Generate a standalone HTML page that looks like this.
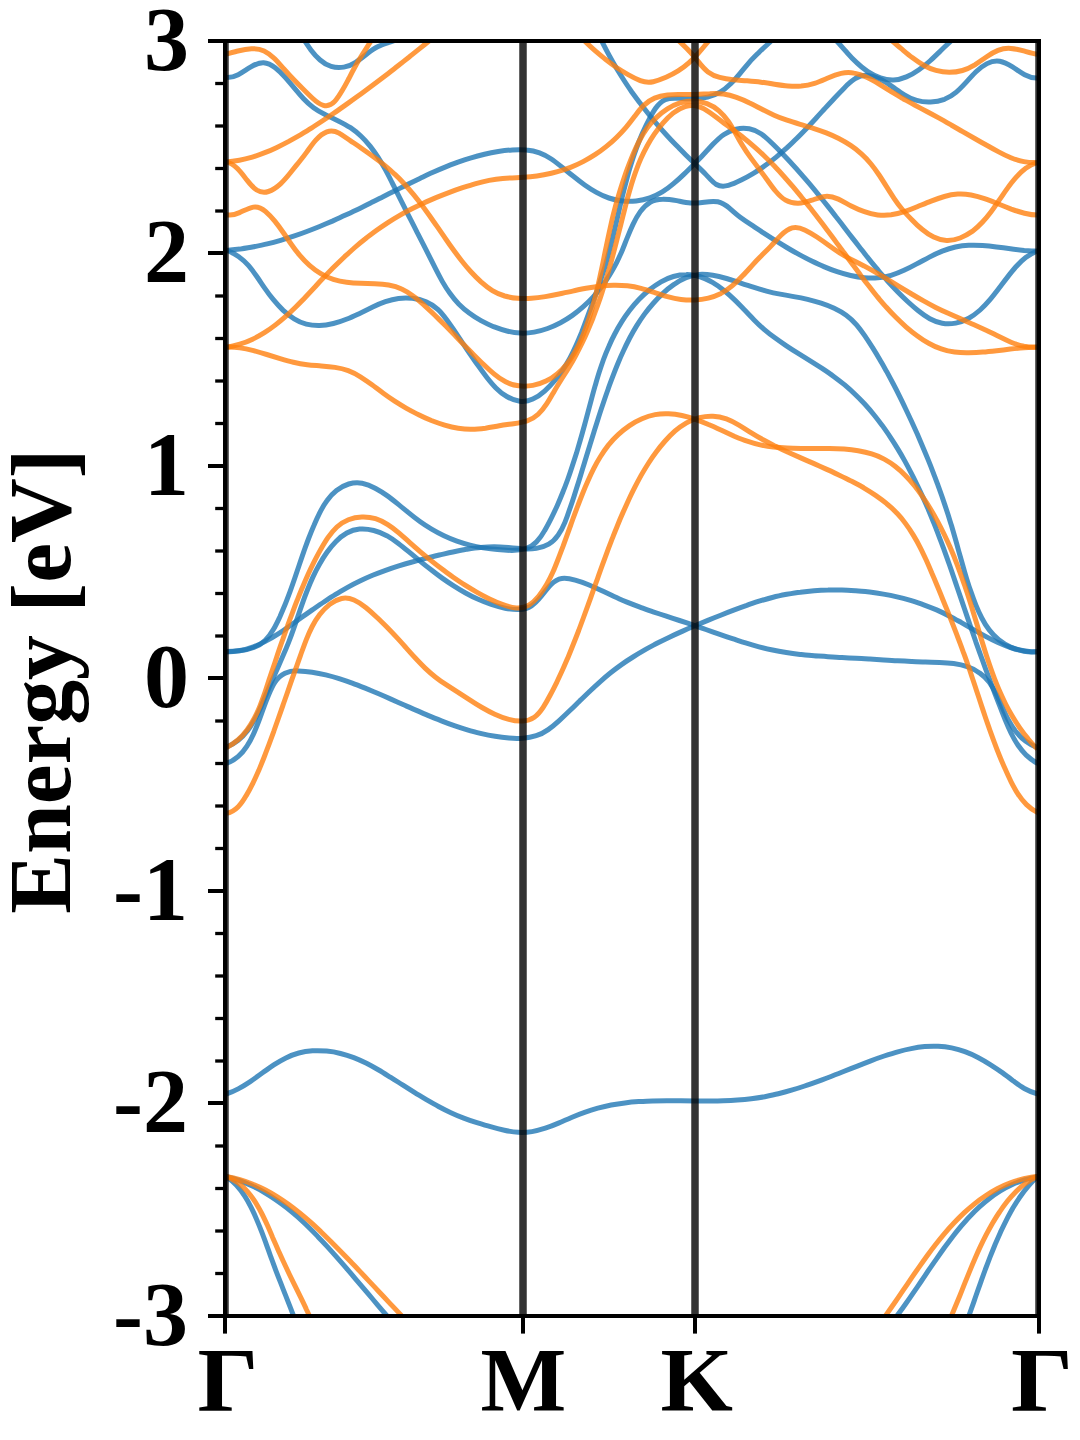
<!DOCTYPE html>
<html>
<head>
<meta charset="utf-8">
<title>Band structure</title>
<style>
html,body{margin:0;padding:0;background:#fff;}
body{width:1080px;height:1440px;overflow:hidden;font-family:"Liberation Serif",serif;}
svg{display:block;}
text{font-family:"Liberation Serif",serif;font-weight:bold;font-size:90px;fill:#000;}
.bands path{fill:none;stroke-width:5.0;stroke-opacity:0.8;stroke-linecap:butt;stroke-linejoin:round;}
.vl line{stroke:#000;stroke-opacity:0.8;stroke-width:7.5;}
.sp line{stroke:#000;stroke-width:4.0;stroke-linecap:square;}
.tk line{stroke:#000;stroke-width:4.0;}
.tk line.mn{stroke-width:3.3;}
</style>
</head>
<body>
<svg width="1080" height="1440" viewBox="0 0 1080 1440">
<defs><clipPath id="ax"><rect x="225.0" y="41.0" width="814.0" height="1275.0"/></clipPath></defs>
<rect x="0" y="0" width="1080" height="1440" fill="#fff"/>
<g class="bands" clip-path="url(#ax)">
<path d="M296 28.1C298.3 31 300.7 34.6 303.1 38.4C305.6 42.2 308.1 46.1 310.9 49.9C313.7 53.6 316.7 57.1 320.1 60C323.4 62.9 327.1 65.2 331.1 66.4C335.2 67.6 339.5 67.8 343.8 67.1C348 66.4 352 64.7 355.7 62.3C359.4 60 363 57.1 366.5 54.3C370.1 51.5 373.7 48.8 377.6 46.8C381.5 44.8 385.7 43.6 389.9 42.2C394 40.9 398.2 39.4 402 37" stroke="#1f77b4"/>
<path d="M225.1 77.4C229.8 78.1 234 76.8 238.2 74.7C242.3 72.6 246.5 69.5 250.9 66.9C255.2 64.3 259.5 62.5 263.6 62.7C267.7 63 271.5 64.9 275.2 67.7C278.8 70.5 282.2 74 285.4 77.6C288.6 81.2 291.6 84.8 294.6 88.4C297.5 91.9 300.5 95.4 303.6 98.7C306.7 102 310 105 313.6 107.7C317.3 110.4 321.3 112.7 325.5 114.8C329.7 116.9 334 118.9 338.3 120.9C342.5 123 346.7 125.2 350.5 127.7C354.3 130.3 357.8 133.2 361.1 136.3C364.4 139.4 367.4 142.8 370.3 146.4C373.1 150 375.8 153.8 378.3 157.7C380.8 161.7 383.2 165.7 385.5 169.9C387.7 174 389.9 178.2 392 182.5C394.2 186.7 396.2 190.9 398.3 195.1C400.4 199.3 402.5 203.5 404.6 207.6C406.6 211.8 408.7 215.9 410.8 219.9C412.9 224 415 228.1 417 232.2C419.1 236.2 421.2 240.3 423.3 244.4C425.4 248.5 427.5 252.6 429.5 256.7C431.6 260.8 433.7 265 435.8 269.2C437.9 273.4 440.1 277.5 442.4 281.6C444.7 285.6 447.2 289.6 449.9 293.3C452.6 297.1 455.5 300.7 458.7 303.9C462 307.2 465.5 310.2 469.2 313C472.9 315.8 476.9 318.3 481 320.6C485.1 322.8 489.3 324.9 493.6 326.7C498 328.4 502.4 329.9 506.9 331C511.4 332.2 515.9 332.9 520.5 333.1C525.1 333.3 529.6 332.9 534.2 332.1C538.7 331.3 543.2 330.1 547.6 328.5C552 326.9 556.3 324.9 560.5 322.7C564.6 320.5 568.6 318.1 572.4 315.4C576.2 312.7 579.8 309.8 583.3 306.7C586.8 303.6 590 300.4 593.2 296.9C596.3 293.5 599.2 289.9 602 286.2C604.8 282.5 607.4 278.7 609.8 274.7C612.2 270.8 614.5 266.7 616.6 262.6C618.6 258.5 620.5 254.4 622.3 250.2C624 246 625.6 241.7 627.4 237.4C629.1 233.1 630.9 228.7 633 224.3C635.1 219.9 637.5 215.5 640.3 211.6C643.1 207.8 646.3 204.5 650.1 202.3C653.8 200.1 658.1 199.2 662.7 199.2C667.2 199.1 672 199.8 676.7 200.6C681.4 201.5 685.9 202.5 690.5 203C695 203.4 699.7 202.8 704.3 202.2C709 201.5 713.6 200.9 717.8 201.8C722.1 202.7 725.8 205.1 729.4 208.2C732.9 211.3 736.5 214.5 740.2 217.3C744 220.1 747.9 222.7 751.8 225.2C755.6 227.7 759.5 230.3 763.4 232.8C767.3 235.3 771.2 237.8 775.1 240.3C779 242.7 782.9 245.1 786.8 247.5C790.8 249.9 794.8 252.2 798.9 254.4C802.9 256.6 807 258.8 811.2 260.8C815.4 262.8 819.6 264.8 823.9 266.6C828.3 268.5 832.7 270.2 837.1 271.7C841.6 273.2 846.1 274.5 850.6 275.5C855.2 276.5 859.7 277.3 864.2 277.7C868.8 278.1 873.3 278.2 877.7 277.8C882.2 277.4 886.6 276.6 891 275.3C895.4 274 899.7 272.3 904 270.3C908.2 268.4 912.5 266.2 916.7 263.9C920.9 261.7 925.2 259.3 929.4 257.1C933.7 254.9 937.9 252.9 942.2 251.1C946.6 249.4 950.9 248 955.4 247C959.8 246.1 964.3 245.5 968.8 245.3C973.3 245.1 977.9 245.2 982.5 245.5C987.1 245.8 991.8 246.3 996.4 246.9C1001.1 247.5 1005.7 248.1 1010.4 248.7C1015 249.4 1019.6 249.9 1024.2 250.4C1028.9 250.8 1033.4 251.1 1038 251.1" stroke="#1f77b4"/>
<path d="M225.9 250.5C230.6 250.2 235.3 249.7 239.9 249.1C244.5 248.4 249.1 247.7 253.7 246.8C258.2 245.9 262.7 245 267.2 243.9C271.7 242.8 276.1 241.6 280.6 240.3C285 239 289.4 237.6 293.7 236.2C298.1 234.7 302.4 233.2 306.8 231.5C311.1 229.9 315.4 228.2 319.6 226.5C323.9 224.7 328.1 222.9 332.4 221.1C336.6 219.2 340.8 217.3 345 215.3C349.2 213.4 353.4 211.4 357.6 209.4C361.8 207.3 366 205.3 370.1 203.2C374.3 201.2 378.4 199.1 382.6 197C386.7 194.9 390.9 192.8 395 190.7C399.2 188.6 403.3 186.6 407.4 184.5C411.6 182.4 415.7 180.4 419.9 178.4C424.1 176.4 428.2 174.4 432.4 172.5C436.7 170.6 440.9 168.8 445.1 167.1C449.4 165.3 453.7 163.7 458 162.1C462.3 160.6 466.7 159.1 471.1 157.8C475.5 156.5 480 155.3 484.5 154.2C489 153.2 493.6 152.3 498.2 151.5C502.9 150.8 507.6 150.2 512.3 149.9C517.1 149.6 521.8 149.5 526.3 150C530.9 150.4 535.4 151.3 539.5 152.8C543.7 154.3 547.6 156.5 551.3 159C555.1 161.6 558.7 164.5 562.4 167.4C566 170.3 569.7 173.4 573.4 176.3C577.1 179.3 580.8 182.2 584.7 185C588.5 187.7 592.4 190.2 596.4 192.4C600.5 194.7 604.6 196.6 608.9 198C613.2 199.5 617.7 200.5 622.3 200.9C626.8 201.4 631.5 201.4 636.1 200.9C640.8 200.3 645.4 199.3 649.8 197.8C654.2 196.3 658.4 194.3 662.3 191.9C666.3 189.5 670 186.7 673.5 183.7C677.1 180.7 680.5 177.6 683.8 174.4C687.2 171.1 690.4 167.9 693.6 164.7C696.8 161.4 700 158.1 703.2 154.7C706.4 151.3 709.6 147.8 712.9 144.3C716.3 140.8 719.7 137.4 723.6 134.7C727.4 132.1 731.6 130.2 736 129.2C740.4 128.1 744.9 128 749.3 128.8C753.6 129.6 757.7 131.4 761.4 134C765.1 136.6 768.6 140 772 143.3C775.4 146.6 778.7 149.9 782 153.3C785.2 156.6 788.4 160.1 791.6 163.5C794.8 166.9 797.9 170.4 800.9 173.9C804 177.4 807 180.9 810 184.4C813 188 815.9 191.5 818.8 195.1C821.7 198.7 824.6 202.3 827.5 205.9C830.4 209.5 833.2 213.1 836 216.8C838.9 220.4 841.7 224 844.5 227.7C847.3 231.3 850.1 235 852.9 238.6C855.8 242.2 858.6 245.9 861.4 249.5C864.3 253.1 867.1 256.8 870 260.3C872.9 263.9 875.9 267.5 878.8 271C881.8 274.5 884.9 278 888 281.5C891.1 284.9 894.3 288.3 897.6 291.7C900.8 295 904.2 298.3 907.6 301.5C911.1 304.7 914.7 307.9 918.3 310.8C922 313.8 925.8 316.5 929.8 318.7C933.8 320.8 937.9 322.5 942.2 323.3C946.6 324.1 951.2 324 955.7 323.1C960.3 322.1 964.7 320.4 968.8 318.2C972.9 315.9 976.6 313.1 980.1 310C983.6 306.8 986.9 303.4 990 299.7C993.1 296.1 996 292.3 998.8 288.6C1001.6 284.9 1004.3 281.2 1007.1 277.6C1009.9 274 1012.7 270.4 1015.7 267C1018.8 263.6 1022 260.3 1025.7 257.5C1029.3 254.8 1033.3 252.5 1038 250.9" stroke="#1f77b4"/>
<path d="M597.4 31.7C599.3 35.9 601.3 40.2 603.4 44.4C605.5 48.5 607.6 52.7 609.9 56.7C612.1 60.8 614.4 64.8 616.8 68.8C619.1 72.7 621.6 76.6 624.1 80.5C626.6 84.4 629.2 88.2 631.8 92C634.5 95.7 637.2 99.4 640 103.1C642.7 106.8 645.6 110.4 648.5 114C651.4 117.6 654.3 121.1 657.3 124.6C660.3 128.1 663.4 131.6 666.5 135C669.6 138.4 672.8 141.8 676 145.1C679.2 148.4 682.5 151.7 685.8 155C689.1 158.2 692.4 161.4 695.8 164.6C699.2 167.8 702.6 171 706 174.6C709.4 178.2 712.7 182.3 716.4 184.5C720.1 186.6 724.2 186.5 728.4 185.4C732.7 184.2 737 182.2 741.2 180.1C745.4 178.1 749.4 175.8 753.4 173.4C757.4 171 761.3 168.4 765.1 165.6C768.9 162.9 772.6 160 776.2 157.1C779.8 154.1 783.3 151 786.8 147.9C790.2 144.7 793.6 141.5 796.9 138.2C800.1 135 803.3 131.7 806.5 128.4C809.6 125.1 812.7 121.8 815.8 118.5C818.8 115.1 821.9 111.8 825 108.4C828.1 105 831.2 101.6 834.4 98.2C837.6 94.8 840.9 91.3 844.3 87.9C847.7 84.4 851.2 81 855.1 78.7C858.9 76.3 863 75.1 867.4 75.4C871.9 75.7 876.5 77.4 880.9 79.6C885.2 81.8 889.2 84.4 893 87.1C896.9 89.8 900.6 92.5 904.4 94.8C908.2 97.2 912.3 99.2 916.7 100.4C921.1 101.7 925.9 102.2 930.6 102C935.4 101.8 940.1 100.9 944.5 99.3C948.8 97.6 952.7 95.1 956.3 92.1C959.8 89.1 963.1 85.6 966.3 82.1C969.5 78.5 972.7 74.9 976 71.7C979.4 68.5 983 65.7 987 63.6C991 61.6 995.3 60.6 999.7 61.3C1004 62.1 1008.4 64.4 1012.5 66.9C1016.7 69.5 1020.6 72.5 1024.7 74.7C1028.8 76.9 1033.1 78.3 1038 77.9" stroke="#1f77b4"/>
<path d="M226 250.2C230.9 251.9 235.1 254.1 238.8 256.7C242.5 259.3 245.7 262.4 248.6 265.7C251.5 269.1 254.2 272.7 256.8 276.5C259.4 280.2 262 284.2 264.7 288.1C267.4 292 270.3 296 273.4 299.7C276.5 303.5 279.8 307.1 283.2 310.4C286.7 313.6 290.3 316.5 294.2 318.9C298 321.3 302.1 323.1 306.3 324.2C310.6 325.3 315 325.7 319.6 325.6C324.1 325.4 328.7 324.6 333.4 323.5C338 322.4 342.6 320.8 347 319C351.5 317.3 355.8 315.2 360.1 313.2C364.4 311.1 368.6 309 372.7 307C376.9 305 381.1 303.2 385.4 301.7C389.7 300.2 394 299 398.5 298.4C403 297.8 407.6 297.7 412.3 298.3C417 298.8 421.7 300 426.1 301.9C430.4 303.7 434.4 306.2 437.8 309.4C441.2 312.5 444.1 316.3 446.9 320.1C449.6 323.9 452.3 327.7 454.9 331.5C457.5 335.4 460.1 339.2 462.6 343C465.2 346.8 467.8 350.7 470.4 354.5C473 358.3 475.6 362.1 478.3 365.8C481 369.6 483.8 373.4 486.7 377.2C489.6 380.9 492.6 384.6 495.9 387.9C499.2 391.2 502.8 394.2 506.8 396.5C510.8 398.9 515.3 400.7 519.8 401.2C524.3 401.8 528.7 401 532.8 399.1C537 397.2 540.9 394.4 544.6 391.1C548.2 387.9 551.6 384.3 554.6 380.7C557.6 377.2 560.4 373.5 562.9 369.8C565.5 366 567.8 362.1 570 358C572.1 354 574.1 349.8 576 345.6C577.9 341.3 579.7 337 581.5 332.7C583.2 328.3 584.8 323.9 586.4 319.6C588.1 315.2 589.7 310.8 591.3 306.4C592.9 302 594.5 297.7 596.1 293.3C597.6 289 599.2 284.6 600.6 280.3C602.1 275.9 603.5 271.5 604.9 267.1C606.2 262.7 607.4 258.2 608.6 253.7C609.8 249.2 611 244.7 612.1 240.2C613.2 235.7 614.2 231.2 615.3 226.6C616.4 222.1 617.4 217.6 618.5 213C619.5 208.5 620.6 203.9 621.6 199.4C622.7 194.9 623.8 190.4 625 185.8C626.2 181.3 627.4 176.8 628.6 172.4C629.9 167.9 631.3 163.5 632.7 159.1C634.1 154.6 635.7 150.3 637.3 145.9C638.9 141.6 640.7 137.3 642.5 133C644.4 128.8 646.4 124.6 648.6 120.4C650.7 116.3 653 112 655.6 108.3C658.2 104.6 661.3 101.5 665.1 99.7C669 98 673.9 98 678.9 98.3C684 98.7 689 99 693.9 98.8C698.7 98.6 703.3 98.1 707.7 97.1C712.1 96 716.2 94.5 720.1 92.2C723.9 90 727.4 87 730.7 83.8C734.1 80.5 737.2 76.9 740.3 73.1C743.4 69.4 746.4 65.7 749.5 62.1C752.6 58.6 755.9 55.4 759.1 52.2C762.4 49.1 765.7 46.1 769.1 43C772.4 39.8 775.7 36.6 779 33" stroke="#1f77b4"/>
<path d="M828 32.2C831.2 35.1 834.3 38.4 837.4 41.8C840.5 45.2 843.6 48.8 846.8 52.3C849.9 55.9 853.2 59.4 856.7 62.6C860.1 65.9 863.8 68.9 867.8 71.6C871.8 74.2 876 76.4 880.4 77.9C884.8 79.4 889.2 80.2 893.6 80C897.9 79.8 902.2 78.7 906.4 76.9C910.6 75.2 914.7 72.8 918.6 70C922.5 67.3 926.3 64.2 929.9 61C933.5 57.7 936.9 54.4 940.2 51.2C943.6 47.9 946.9 44.7 950.3 41.7C953.7 38.6 957.2 35.7 961 33.1" stroke="#1f77b4"/>
<path d="M226.2 763.4C230.7 761.9 234.6 759.5 238 756.6C241.4 753.7 244.3 750.2 246.8 746.3C249.4 742.5 251.6 738.3 253.5 734C255.5 729.6 257.2 725.2 258.9 720.8C260.5 716.5 262 712.1 263.6 707.8C265.2 703.5 266.9 699.2 268.7 694.9C270.5 690.6 272.4 686.1 275 682.2C277.6 678.3 281 675.2 285 673.3C289 671.4 293.6 670.7 298.2 670.9C302.9 671.1 307.5 671.5 312.1 672.2C316.7 672.9 321.2 673.8 325.7 674.9C330.2 676 334.7 677.2 339.1 678.6C343.5 680 347.9 681.5 352.2 683.1C356.6 684.7 360.9 686.4 365.2 688.1C369.6 689.9 373.8 691.7 378.1 693.5C382.4 695.4 386.6 697.2 390.9 699.1C395.1 701 399.4 702.9 403.6 704.8C407.9 706.7 412.1 708.6 416.4 710.4C420.6 712.3 424.9 714.1 429.1 715.9C433.4 717.7 437.7 719.4 442 721.1C446.3 722.8 450.6 724.4 455 725.9C459.3 727.4 463.7 728.8 468.1 730.1C472.5 731.4 477 732.5 481.5 733.6C486 734.7 490.5 735.6 495.1 736.3C499.7 737.1 504.4 737.7 509 738.1C513.7 738.5 518.4 738.6 522.9 738.2C527.5 737.9 531.9 737.1 536.2 735.7C540.4 734.4 544.4 732.3 548.2 729.6C552 727 555.7 723.8 559.2 720.6C562.7 717.4 566.2 714.1 569.6 710.8C573 707.5 576.4 704.2 579.7 700.9C583.1 697.7 586.5 694.4 589.8 691.2C593.2 688 596.6 684.8 600 681.8C603.5 678.7 607 675.7 610.6 672.8C614.1 670 617.8 667.2 621.5 664.6C625.3 661.9 629.1 659.4 633 657C636.9 654.5 640.8 652.2 644.8 649.9C648.8 647.6 652.9 645.5 657 643.3C661.1 641.2 665.2 639.2 669.4 637.2C673.6 635.2 677.8 633.3 682.1 631.4C686.3 629.5 690.6 627.6 694.9 625.8C699.2 624 703.5 622.2 707.8 620.4C712.1 618.7 716.4 616.9 720.7 615.2C725.1 613.4 729.4 611.7 733.7 610.1C738.1 608.4 742.4 606.8 746.8 605.3C751.1 603.7 755.5 602.3 759.9 600.9C764.3 599.6 768.8 598.3 773.2 597.2C777.7 596.1 782.2 595.2 786.7 594.3C791.2 593.5 795.8 592.7 800.4 592.2C804.9 591.6 809.5 591.1 814.1 590.7C818.7 590.4 823.3 590.2 828 590.1C832.6 589.9 837.2 589.9 841.9 590C846.5 590.1 851.1 590.4 855.8 590.7C860.4 591 865 591.5 869.6 592C874.2 592.6 878.8 593.3 883.4 594.1C888 594.9 892.5 595.8 897 596.9C901.5 597.9 906 599.1 910.5 600.4C914.9 601.8 919.3 603.2 923.7 604.8C928 606.4 932.3 608.1 936.6 609.9C940.8 611.8 945 613.8 949.1 615.9C953.3 618 957.3 620.3 961.4 622.6C965.4 624.9 969.5 627.3 973.5 629.6C977.5 631.9 981.5 634.2 985.6 636.4C989.6 638.6 993.7 640.7 997.9 642.5C1002.1 644.4 1006.3 646.1 1010.6 647.5C1015 648.9 1019.4 650 1023.9 650.7C1028.5 651.5 1033.2 651.9 1038 651.9" stroke="#1f77b4"/>
<path d="M226.3 747.2C230.8 745.4 234.7 743 238.2 740.2C241.7 737.4 244.8 734.1 247.5 730.6C250.3 727 252.7 723.1 254.9 719.1C257.1 715 259.2 710.7 261.1 706.4C263 702 264.8 697.6 266.6 693.2C268.5 688.8 270.3 684.5 272.2 680.2C274.1 675.9 276 671.7 277.9 667.5C279.8 663.2 281.6 659 283.4 654.8C285.3 650.6 287 646.4 288.7 642.1C290.4 637.8 292 633.4 293.5 629.1C295.1 624.7 296.6 620.3 298.1 615.9C299.6 611.4 301.1 607 302.7 602.6C304.2 598.2 305.9 593.8 307.6 589.5C309.3 585.2 311.1 580.9 313.1 576.6C315 572.4 317.2 568.2 319.5 564.2C321.8 560.1 324.3 556.1 327 552.3C329.8 548.4 332.7 544.7 336 541.4C339.3 538.1 342.9 535.2 346.8 533C350.7 530.9 355 529.5 359.6 529.1C364.3 528.7 369.2 529.3 373.8 530.5C378.4 531.7 382.7 533.5 386.8 535.7C390.8 538 394.6 540.6 398.4 543.4C402.1 546.2 405.7 549.2 409.3 552.2C412.9 555.2 416.5 558.2 420.1 561.1C423.7 564.1 427.4 567 431.1 569.8C434.7 572.7 438.4 575.4 442.2 578.1C446 580.8 449.8 583.4 453.7 585.9C457.6 588.4 461.6 590.8 465.6 593C469.7 595.3 473.9 597.4 478.2 599.3C482.4 601.2 486.8 602.9 491.3 604.4C495.8 605.9 500.4 607.2 505.1 608.2C509.8 609.1 514.5 609.7 519 609.5C523.6 609.3 527.8 608.2 531.5 605.8C535.2 603.4 538.4 599.8 541.5 596C544.6 592.1 547.6 588.1 550.8 584.8C554 581.6 557.5 579.1 561.7 578.5C565.9 577.9 570.6 578.8 575.2 580.1C579.7 581.3 584.2 582.9 588.5 584.7C592.9 586.5 597.2 588.5 601.4 590.5C605.7 592.5 609.9 594.6 614.1 596.5C618.4 598.5 622.7 600.3 627 602.1C631.3 603.8 635.7 605.5 640 607.1C644.4 608.7 648.7 610.3 653.1 611.8C657.5 613.3 661.9 614.7 666.3 616.2C670.7 617.6 675.1 619.1 679.5 620.5C683.9 622 688.3 623.4 692.7 624.9C697.1 626.4 701.5 627.9 705.9 629.5C710.3 631 714.7 632.6 719.1 634.1C723.5 635.7 727.9 637.2 732.4 638.7C736.8 640.1 741.2 641.6 745.6 642.9C750.1 644.3 754.6 645.6 759 646.8C763.5 648 768 649.1 772.6 650C777.1 651 781.7 651.8 786.3 652.5C790.9 653.3 795.5 653.9 800.1 654.4C804.8 654.9 809.4 655.4 814.1 655.8C818.7 656.1 823.4 656.5 828 656.7C832.7 657 837.4 657.3 842 657.5C846.7 657.8 851.3 658 856 658.3C860.6 658.5 865.2 658.8 869.9 659.1C874.5 659.4 879.1 659.6 883.7 659.9C888.3 660.2 892.9 660.5 897.5 660.7C902.1 661 906.8 661.2 911.4 661.5C916.1 661.7 920.7 661.9 925.4 662C930.1 662.2 934.8 662.3 939.6 662.4C944.3 662.6 949 662.9 953.6 663.5C958.2 664.2 962.8 665.1 967.2 666.7C971.5 668.2 975.8 670.2 979.5 672.9C983.3 675.5 986.6 678.7 989.3 682.4C992 686.1 994.3 690.2 996.4 694.4C998.4 698.6 1000.3 702.9 1002.2 707.1C1004.1 711.4 1006 715.7 1008.2 719.8C1010.4 723.9 1012.9 727.9 1015.8 731.5C1018.7 735.2 1022.1 738.5 1025.8 741.3C1029.5 744.1 1033.6 746.4 1037.9 747.9" stroke="#1f77b4"/>
<path d="M226 651.9C230.9 651.9 235.6 651.4 240.1 650.5C244.7 649.7 249.1 648.4 253.4 646.8C257.6 645.2 261.8 643.3 265.8 641.1C269.9 639 273.9 636.6 277.8 634.1C281.7 631.6 285.6 628.9 289.4 626.2C293.2 623.5 297 620.8 300.8 618C304.7 615.3 308.5 612.6 312.3 609.9C316.2 607.2 320 604.5 323.9 602C327.8 599.4 331.7 596.8 335.6 594.4C339.6 591.9 343.6 589.6 347.6 587.3C351.6 585.1 355.7 583 359.9 581C364.1 579 368.3 577.1 372.6 575.3C376.9 573.5 381.2 571.9 385.6 570.3C389.9 568.8 394.4 567.3 398.8 565.9C403.3 564.5 407.7 563.2 412.2 562C416.7 560.7 421.2 559.5 425.7 558.4C430.3 557.2 434.8 556.1 439.3 555C443.8 554 448.4 552.9 452.9 552C457.4 551 461.9 550.1 466.5 549.3C471.1 548.6 475.6 547.9 480.3 547.5C484.9 547.1 489.5 546.8 494.2 546.8C498.9 546.8 503.7 547.2 508.4 547.6C513.2 548.1 518 548.6 522.7 548.9C527.4 549.1 532 549.1 536.4 548.4C540.8 547.7 545 546.4 548.7 544.2C552.4 542.1 555.5 539 558.1 535.2C560.7 531.5 562.9 527.2 564.8 522.6C566.7 518.1 568.3 513.4 569.8 508.8C571.4 504.3 572.9 499.8 574.3 495.4C575.7 491 577.1 486.7 578.5 482.3C579.8 477.9 581.2 473.5 582.5 469.1C583.9 464.7 585.2 460.2 586.6 455.8C587.9 451.4 589.3 447 590.7 442.5C592 438.1 593.4 433.7 594.8 429.2C596.2 424.8 597.6 420.4 599 416C600.4 411.5 601.9 407.1 603.4 402.7C604.9 398.3 606.4 393.9 608 389.5C609.5 385.1 611.2 380.7 612.8 376.4C614.5 372 616.2 367.6 618 363.3C619.7 359 621.6 354.7 623.6 350.5C625.5 346.3 627.6 342.1 629.7 338C631.9 333.9 634.2 329.8 636.6 325.9C639 322 641.6 318.1 644.3 314.4C647.1 310.6 650 307 653.1 303.5C656.2 300 659.4 296.6 662.9 293.4C666.4 290.1 670.1 287.1 674 284.4C677.8 281.6 681.9 279.3 686.1 277.6C690.3 275.9 694.7 274.8 699.1 274.4C703.6 274.1 708.2 274.5 712.8 275.2C717.4 276 722 277.2 726.5 278.5C731.1 279.9 735.6 281.4 740.1 282.8C744.5 284.3 748.9 285.8 753.3 287.2C757.7 288.6 762.1 290 766.5 291.1C771 292.3 775.5 293.3 780.1 294.1C784.6 295 789.2 295.7 793.8 296.6C798.4 297.4 803 298.3 807.6 299.4C812.1 300.5 816.7 301.7 821.1 303.1C825.6 304.6 830 306.2 834.2 308.2C838.4 310.2 842.5 312.5 846.2 315.2C849.9 317.9 853.3 321.1 856.3 324.6C859.3 328 862 331.8 864.7 335.7C867.3 339.5 869.9 343.5 872.4 347.4C874.9 351.3 877.3 355.3 879.6 359.3C882 363.3 884.3 367.4 886.6 371.4C888.8 375.5 891 379.6 893.2 383.7C895.4 387.8 897.5 392 899.5 396.1C901.6 400.3 903.6 404.5 905.6 408.7C907.6 412.9 909.6 417.1 911.5 421.3C913.5 425.6 915.4 429.8 917.3 434C919.1 438.3 921 442.6 922.8 446.9C924.6 451.1 926.4 455.4 928.1 459.7C929.9 464 931.6 468.4 933.2 472.7C934.9 477 936.5 481.4 938.1 485.7C939.7 490.1 941.3 494.5 942.8 498.9C944.3 503.3 945.8 507.7 947.2 512.1C948.7 516.5 950 520.9 951.4 525.3C952.7 529.8 954 534.2 955.3 538.7C956.6 543.2 957.8 547.6 959 552.1C960.3 556.6 961.5 561 962.8 565.5C964 570 965.3 574.4 966.7 578.9C968.1 583.4 969.5 587.8 971.1 592.2C972.6 596.6 974.2 601 976 605.4C977.8 609.8 979.7 614.1 981.9 618.2C984 622.3 986.4 626.3 989.2 629.9C992 633.6 995.1 636.9 998.7 639.8C1002.3 642.7 1006.3 645.2 1010.5 647.1C1014.8 649 1019.4 650.4 1024 651.2C1028.6 652 1033.4 652.1 1038 651.5" stroke="#1f77b4"/>
<path d="M225.9 651.6C230.2 651.6 235 651.4 239.8 650.8C244.6 650.2 249.4 649.2 253.8 647.5C258.3 645.8 262.1 643.4 265.3 640.2C268.5 637.1 271.2 633.3 273.5 629.3C275.9 625.2 277.9 620.9 279.9 616.7C281.8 612.4 283.6 608.1 285.4 603.8C287.1 599.5 288.7 595.2 290.3 590.9C291.9 586.5 293.4 582.2 294.9 577.8C296.4 573.4 297.8 569.1 299.3 564.7C300.8 560.3 302.3 556 303.8 551.6C305.4 547.2 306.9 542.9 308.6 538.5C310.3 534.1 312 529.8 313.9 525.5C315.7 521.1 317.7 516.8 319.8 512.6C322 508.3 324.3 504.2 327.1 500.5C329.8 496.7 332.9 493.3 336.5 490.5C340.1 487.6 344.3 485.4 348.7 484C353.1 482.7 357.7 482.4 362.1 483.2C366.6 484.1 371 485.9 375.2 488.2C379.3 490.4 383.3 492.9 387.1 495.6C390.9 498.3 394.5 501.2 398.1 504.1C401.7 507 405.3 510 408.8 512.9C412.4 515.9 416.1 518.7 419.9 521.5C423.6 524.2 427.6 526.7 431.6 529.1C435.6 531.5 439.8 533.7 444 535.7C448.2 537.7 452.5 539.5 456.9 541.1C461.2 542.6 465.6 544 470 545.1C474.4 546.2 478.8 547.1 483.4 547.9C488 548.6 492.6 549.2 497.4 549.6C502.2 550.1 507.1 550.4 512 550.4C516.8 550.4 521.6 549.9 525.8 548.5C530 547.2 533.6 544.8 536.6 541.7C539.7 538.5 542.3 534.7 544.6 530.6C547 526.6 549.2 522.3 551.3 518.1C553.4 513.9 555.4 509.7 557.3 505.4C559.2 501.1 561 496.8 562.7 492.5C564.5 488.2 566.1 483.9 567.7 479.5C569.3 475.1 570.8 470.7 572.2 466.3C573.7 461.9 575.1 457.5 576.5 453.1C577.8 448.6 579.1 444.2 580.4 439.7C581.7 435.3 582.9 430.8 584.2 426.3C585.4 421.8 586.6 417.4 587.8 412.9C589 408.4 590.2 403.9 591.4 399.4C592.6 394.9 593.8 390.4 595.1 385.9C596.4 381.5 597.7 377 599.1 372.6C600.5 368.2 602 363.8 603.5 359.5C605.1 355.2 606.8 350.9 608.7 346.7C610.5 342.4 612.4 338.3 614.6 334.2C616.7 330.1 619 326 621.5 322.1C623.9 318.2 626.6 314.3 629.5 310.5C632.4 306.8 635.5 303.1 638.9 299.6C642.2 296.1 645.8 292.8 649.5 289.8C653.2 286.8 657 284.1 661 281.8C665 279.5 669.2 277.7 673.4 276.5C677.6 275.2 681.9 274.5 686.3 274.5C690.6 274.4 695 275.1 699.5 276.5C703.9 277.9 708.3 280 712.5 282.4C716.7 284.9 720.7 287.7 724.4 290.7C728.1 293.7 731.6 296.9 734.9 300.1C738.3 303.4 741.4 306.7 744.6 310C747.8 313.4 750.9 316.7 754.1 319.9C757.3 323.2 760.6 326.3 764.1 329.3C767.6 332.3 771.2 335.1 774.9 337.8C778.7 340.6 782.5 343.2 786.4 345.8C790.3 348.4 794.2 350.9 798.2 353.4C802.2 355.9 806.2 358.4 810.2 360.9C814.2 363.4 818.2 365.9 822.1 368.4C826 371 829.9 373.6 833.7 376.4C837.4 379.1 841.1 382 844.7 384.9C848.2 387.9 851.7 391 855 394.2C858.3 397.3 861.5 400.6 864.7 404C867.8 407.4 870.8 410.9 873.7 414.5C876.6 418.1 879.4 421.7 882.2 425.4C884.9 429.2 887.6 433 890.1 436.8C892.7 440.7 895.2 444.6 897.6 448.6C900 452.5 902.3 456.5 904.6 460.6C906.8 464.6 909 468.7 911.1 472.8C913.3 476.9 915.3 481.1 917.3 485.3C919.4 489.5 921.3 493.7 923.2 497.9C925.1 502.1 927 506.4 928.8 510.7C930.6 514.9 932.3 519.2 934.1 523.6C935.8 527.9 937.5 532.2 939.1 536.6C940.8 540.9 942.4 545.3 944 549.6C945.6 554 947.2 558.4 948.7 562.8C950.3 567.2 951.8 571.6 953.3 576C954.8 580.4 956.3 584.8 957.8 589.2C959.3 593.6 960.8 598 962.3 602.4C963.8 606.8 965.3 611.2 966.8 615.6C968.3 620 969.8 624.4 971.3 628.7C972.8 633.1 974.3 637.4 975.8 641.8C977.4 646.1 978.9 650.5 980.5 654.8C982.1 659.2 983.6 663.5 985.2 667.8C986.8 672.1 988.5 676.5 990.1 680.8C991.7 685.2 993.4 689.5 995 693.8C996.7 698.2 998.4 702.6 1000.1 706.9C1001.8 711.3 1003.5 715.7 1005.3 720.1C1007.1 724.5 1009 728.8 1011 733C1013.1 737.2 1015.3 741.2 1017.9 745C1020.4 748.7 1023.3 752.2 1026.5 755.4C1029.8 758.5 1033.5 761.2 1037.7 763.5" stroke="#1f77b4"/>
<path d="M226.1 1094C230.5 1092.6 234.7 1090.8 238.7 1088.6C242.8 1086.4 246.7 1083.9 250.6 1081.3C254.5 1078.6 258.4 1075.8 262.2 1073C266.1 1070.3 269.9 1067.5 273.8 1064.9C277.8 1062.3 281.8 1059.9 285.9 1057.9C290 1055.9 294.3 1054.2 298.8 1053C303.2 1051.8 307.8 1051.1 312.5 1050.8C317.2 1050.5 321.9 1050.6 326.6 1051.1C331.3 1051.5 335.9 1052.3 340.5 1053.5C345 1054.6 349.4 1056 353.8 1057.7C358.1 1059.4 362.3 1061.3 366.5 1063.3C370.6 1065.4 374.7 1067.7 378.7 1070C382.8 1072.4 386.7 1074.9 390.7 1077.4C394.7 1079.8 398.6 1082.4 402.6 1084.9C406.5 1087.4 410.5 1089.9 414.4 1092.4C418.4 1094.9 422.4 1097.3 426.4 1099.7C430.4 1102 434.4 1104.3 438.5 1106.5C442.6 1108.7 446.7 1110.8 450.9 1112.7C455.1 1114.7 459.4 1116.5 463.7 1118.1C468.1 1119.8 472.5 1121.3 476.9 1122.7C481.4 1124.1 485.9 1125.5 490.5 1126.7C495.1 1128 499.8 1129.2 504.4 1130.2C509.1 1131.2 513.7 1132 518.3 1132.3C523 1132.6 527.5 1132.3 532 1131.6C536.5 1130.8 540.9 1129.6 545.3 1128.2C549.8 1126.7 554.1 1125 558.5 1123.1C562.8 1121.3 567.2 1119.3 571.5 1117.5C575.9 1115.6 580.2 1113.9 584.6 1112.4C589 1110.8 593.4 1109.4 597.8 1108.2C602.2 1107 606.7 1105.9 611.2 1105C615.7 1104.2 620.3 1103.5 624.9 1102.9C629.4 1102.3 634 1101.9 638.7 1101.6C643.3 1101.3 648 1101 652.7 1100.9C657.4 1100.8 662.1 1100.7 666.8 1100.7C671.5 1100.7 676.2 1100.7 681 1100.8C685.7 1100.8 690.4 1100.9 695.2 1100.9C699.9 1101 704.6 1101 709.3 1101C714.1 1101 718.8 1101 723.4 1100.8C728.1 1100.7 732.8 1100.5 737.4 1100.1C742.1 1099.8 746.7 1099.4 751.2 1098.8C755.8 1098.2 760.3 1097.5 764.8 1096.7C769.3 1095.8 773.8 1094.9 778.3 1093.8C782.7 1092.7 787.1 1091.5 791.5 1090.2C795.9 1088.9 800.3 1087.5 804.7 1086C809.1 1084.6 813.5 1083 817.9 1081.4C822.2 1079.8 826.6 1078.2 831 1076.5C835.4 1074.8 839.8 1073.1 844.2 1071.3C848.6 1069.6 853 1067.8 857.4 1066.1C861.8 1064.3 866.3 1062.5 870.8 1060.8C875.2 1059.1 879.7 1057.5 884.2 1056C888.7 1054.5 893.2 1053 897.7 1051.8C902.2 1050.5 906.7 1049.4 911.2 1048.6C915.7 1047.7 920.2 1047 924.7 1046.6C929.2 1046.2 933.7 1046.1 938.1 1046.3C942.6 1046.5 947.1 1047 951.6 1047.9C956 1048.8 960.5 1050 964.9 1051.7C969.3 1053.3 973.7 1055.3 978 1057.5C982.3 1059.8 986.5 1062.2 990.6 1064.8C994.7 1067.4 998.7 1070.1 1002.6 1072.9C1006.4 1075.6 1010 1078.4 1013.5 1081.1C1017 1083.7 1020.4 1086.3 1024.3 1088.5C1028.2 1090.7 1032.6 1092.6 1037.8 1094" stroke="#1f77b4"/>
<path d="M226.3 1176.7C230.1 1179.3 233.5 1182.2 236.5 1185.4C239.5 1188.7 242.2 1192.2 244.6 1195.9C247 1199.5 249.1 1203.4 251.1 1207.4C253.1 1211.4 255 1215.5 256.7 1219.6C258.5 1223.8 260.2 1227.9 261.8 1232.2C263.4 1236.4 265 1240.6 266.5 1244.9C268.1 1249.2 269.6 1253.4 271.1 1257.7C272.7 1261.9 274.2 1266.1 275.8 1270.4C277.4 1274.6 279 1278.7 280.7 1282.9C282.3 1287.1 283.9 1291.2 285.6 1295.4C287.2 1299.5 288.9 1303.7 290.5 1307.8C292.1 1312 293.7 1316.2 295.3 1320.4C296.9 1324.5 298.5 1328.7 300.1 1333" stroke="#1f77b4"/>
<path d="M226.1 1176.4C230.7 1177.6 235.2 1179 239.6 1180.6C243.9 1182.2 248.2 1184.1 252.3 1186C256.5 1188 260.5 1190.2 264.5 1192.5C268.4 1194.8 272.3 1197.3 276 1199.9C279.8 1202.5 283.5 1205.2 287.1 1208.1C290.7 1211 294.2 1213.9 297.7 1217C301.1 1220.1 304.5 1223.2 307.9 1226.5C311.2 1229.7 314.5 1233 317.7 1236.4C321 1239.7 324.2 1243.2 327.3 1246.6C330.5 1250.1 333.6 1253.6 336.7 1257.1C339.8 1260.6 342.9 1264.1 345.9 1267.6C349 1271.2 352 1274.7 355 1278.3C358 1281.8 361 1285.4 364 1288.9C367 1292.4 370 1296 373 1299.5C376 1303 379 1306.6 382 1310.1C385 1313.5 388 1317 391 1320.5C394 1323.9 397.1 1327.3 400.1 1330.7" stroke="#1f77b4"/>
<path d="M881.8 1334.7C884.7 1331.4 887.5 1328 890.2 1324.5C893 1321.1 895.7 1317.6 898.3 1314C901 1310.4 903.6 1306.8 906.1 1303.2C908.7 1299.5 911.3 1295.8 913.8 1292.1C916.3 1288.4 918.9 1284.7 921.4 1281C923.9 1277.2 926.5 1273.5 929 1269.7C931.5 1266 934.1 1262.3 936.7 1258.6C939.3 1254.9 941.9 1251.2 944.5 1247.5C947.2 1243.9 949.9 1240.3 952.6 1236.7C955.4 1233.2 958.2 1229.7 961.1 1226.2C964 1222.8 966.9 1219.4 970 1216.2C973 1213 976.2 1209.8 979.4 1206.9C982.7 1203.9 986 1201 989.5 1198.4C993 1195.7 996.6 1193.2 1000.3 1190.9C1004 1188.6 1007.9 1186.5 1011.9 1184.7C1016 1182.8 1020.2 1181.2 1024.5 1179.8C1028.9 1178.5 1033.4 1177.4 1038.1 1176.6" stroke="#1f77b4"/>
<path d="M962.7 1332.8C964.3 1328.7 965.8 1324.5 967.3 1320.3C968.8 1316.2 970.3 1312 971.8 1307.7C973.3 1303.5 974.7 1299.3 976.2 1295C977.7 1290.8 979.2 1286.5 980.7 1282.3C982.2 1278 983.8 1273.8 985.3 1269.5C986.9 1265.3 988.5 1261.1 990.1 1256.9C991.8 1252.6 993.5 1248.5 995.2 1244.3C997 1240.1 998.8 1236 1000.6 1231.9C1002.5 1227.8 1004.5 1223.8 1006.5 1219.8C1008.5 1215.8 1010.7 1211.9 1012.9 1208C1015.2 1204.2 1017.6 1200.4 1020.1 1196.8C1022.7 1193.1 1025.4 1189.6 1028.3 1186.2C1031.1 1182.8 1034.2 1179.6 1037.6 1176.5" stroke="#1f77b4"/>
<path d="M225.2 54C229.1 53.3 233.5 52.1 237.9 51C242.4 49.9 247 49 251.5 48.7C255.9 48.5 260.2 49.1 264.1 50.9C267.9 52.7 271.4 55.5 274.7 58.8C278 62.1 281.1 65.8 284.2 69.2C287.2 72.6 290.2 75.9 293.2 79C296.2 82.1 299.2 85.2 302.3 88.2C305.4 91.3 308.6 94.5 312 97.7C315.4 100.9 319.1 104.1 323.4 105.3C327.7 106.5 331.7 104.7 334.7 101.4C337.7 98.1 340.2 93.9 342.5 90C344.9 86.1 346.9 82.2 349 78.3C351 74.3 353 70.4 355.2 66.5C357.3 62.6 359.6 58.8 362 55C364.4 51.2 366.9 47.4 369.3 43.6C371.7 39.8 374 35.9 376 32" stroke="#ff7f0e"/>
<path d="M226 161.9C230.5 161.6 235 161 239.4 160.2C243.8 159.4 248.1 158.3 252.3 157.1C256.5 155.8 260.7 154.3 264.8 152.7C268.9 151.1 273 149.3 276.9 147.4C280.9 145.5 284.9 143.5 288.8 141.4C292.7 139.2 296.6 137 300.4 134.8C304.2 132.5 308 130.2 311.8 127.8C315.5 125.4 319.3 123 323 120.5C326.7 118.1 330.4 115.6 334.1 113C337.7 110.5 341.4 108 345 105.4C348.6 102.8 352.3 100.3 355.9 97.6C359.5 95 363 92.4 366.6 89.8C370.2 87.1 373.7 84.5 377.3 81.8C380.8 79.1 384.4 76.4 387.9 73.7C391.4 71 394.9 68.3 398.4 65.5C401.9 62.8 405.4 60 408.9 57.3C412.3 54.5 415.8 51.7 419.3 48.9C422.7 46.1 426.2 43.3 429.6 40.5C433.1 37.6 436.5 34.8 440 31.9" stroke="#ff7f0e"/>
<path d="M226.2 162.1C230.4 162.7 234.1 165.2 237.4 168.6C240.8 172 243.9 176.2 247 180.1C250.1 184.1 253.3 187.7 256.7 190C260.2 192.2 264.1 192.9 268.4 191.5C272.6 190.1 276.9 187.1 280.5 183.8C284 180.5 287.1 176.8 290 173.2C292.9 169.6 295.7 166.2 298.5 162.7C301.3 159.3 304.1 155.8 306.9 151.9C309.7 148 312.5 143.7 315.8 140.1C319 136.5 322.7 133.3 326.8 131.8C330.9 130.3 335.1 130.9 339 133.1C342.9 135.3 346.7 138.2 350.6 140.8C354.4 143.4 358.3 146 362.1 148.7C365.9 151.3 369.7 154 373.4 156.7C377.2 159.4 380.8 162.2 384.4 165.1C387.9 168 391.4 171 394.7 174.2C398.1 177.3 401.3 180.6 404.4 184C407.5 187.4 410.5 190.9 413.4 194.4C416.3 198 419.2 201.6 422 205.3C424.7 209 427.5 212.8 430.1 216.5C432.8 220.3 435.4 224.1 438.1 227.9C440.7 231.7 443.3 235.5 445.9 239.2C448.5 243 451.1 246.7 453.7 250.3C456.4 254 459.1 257.6 462 261.2C464.8 264.8 467.8 268.3 470.9 271.7C474.1 275.2 477.5 278.6 481 281.9C484.6 285.1 488.4 288.1 492.4 290.6C496.3 293 500.5 294.7 504.7 296C509 297.2 513.4 298 517.9 298.3C522.4 298.6 526.9 298.6 531.5 298.3C536.1 297.9 540.7 297.3 545.3 296.6C549.9 295.8 554.5 294.9 559 294C563.6 293 568.1 292 572.6 291.1C577.1 290.1 581.6 289.2 586.1 288.3C590.6 287.5 595.2 286.8 599.7 286.2C604.3 285.7 608.9 285.3 613.5 285.2C618.1 285.1 622.7 285.3 627.3 285.8C631.9 286.3 636.4 287.1 640.9 288.3C645.4 289.4 649.8 290.9 654.2 292.4C658.5 293.8 662.9 295.3 667.4 296.6C671.9 297.8 676.4 298.8 681 299.4C685.6 300 690.2 300.2 694.8 300C699.4 299.8 703.9 299.2 708.3 298.1C712.7 297 716.9 295.4 721 293.4C725 291.3 728.8 288.6 732.4 285.6C736 282.6 739.4 279.3 742.6 275.8C745.9 272.4 749.1 268.8 752.2 265.4C755.3 261.9 758.3 258.7 761.4 255.7C764.5 252.6 767.7 249.6 770.9 246.1C774.2 242.6 777.5 238.6 781 235.2C784.6 231.8 788.3 229 792.2 227.9C796.2 226.8 800.5 227.9 804.7 229.9C809 231.9 813 234.4 816.9 237C820.8 239.6 824.6 242.3 828.3 245C832.1 247.8 835.8 250.4 839.7 252.9C843.6 255.4 847.6 257.6 851.7 259.7C855.8 261.8 859.9 263.8 864 265.9C868.1 268.1 872.1 270.3 876.1 272.6C880.1 274.9 884.1 277.2 888 279.6C892 282 895.9 284.4 899.8 286.8C903.8 289.2 907.7 291.6 911.6 294C915.6 296.4 919.6 298.7 923.6 300.9C927.6 303.2 931.6 305.3 935.7 307.4C939.8 309.4 944 311.4 948.2 313.3C952.4 315.2 956.6 317.1 960.8 318.9C965 320.8 969.2 322.6 973.5 324.5C977.7 326.4 981.9 328.3 986.1 330.2C990.3 332.2 994.4 334.3 998.5 336.3C1002.7 338.4 1006.8 340.4 1011 342.2C1015.2 343.9 1019.6 345.4 1024 346.3C1028.5 347.1 1033.2 347.5 1038.1 347" stroke="#ff7f0e"/>
<path d="M226 214.4C230.1 216.1 234.8 214.7 239.5 212.6C244.2 210.6 249 207.9 253.4 207.1C257.8 206.4 261.8 208.3 265.4 211.4C268.9 214.4 272.1 217.8 275 221.4C277.9 225 280.6 228.7 283.2 232.5C285.9 236.3 288.4 240.2 291.1 244C293.7 247.8 296.5 251.5 299.6 255.1C302.6 258.7 305.9 262.2 309.5 265.3C313 268.4 316.8 271.2 320.8 273.6C324.8 276 329 278 333.3 279.4C337.7 280.8 342.1 281.7 346.7 282.2C351.2 282.8 355.9 283.1 360.6 283.2C365.3 283.4 370 283.5 374.7 283.7C379.4 283.9 384.1 284.2 388.6 285C393.1 285.8 397.5 287 401.6 289C405.8 290.9 409.7 293.4 413.4 296.3C417.2 299.1 420.8 302.3 424.3 305.4C427.8 308.6 431.3 311.8 434.6 315C437.9 318.3 441.2 321.5 444.5 324.8C447.7 328 450.9 331.3 454.1 334.6C457.3 337.9 460.5 341.2 463.7 344.5C466.9 347.8 470.1 351.1 473.4 354.4C476.7 357.7 480 361 483.4 364.3C486.8 367.6 490.3 370.9 494 373.9C497.6 377 501.5 379.7 505.6 381.8C509.6 383.9 514 385.3 518.7 385.8C523.3 386.4 528.2 386.2 532.8 385.4C537.5 384.5 542 383.1 546 381.1C550.1 379.2 553.8 376.8 557.2 373.9C560.7 371.1 563.8 367.9 566.6 364.3C569.5 360.8 572 357 574.4 352.9C576.8 348.9 578.9 344.6 580.8 340.2C582.8 335.8 584.6 331.3 586.2 326.8C587.8 322.3 589.3 317.7 590.7 313.2C592.1 308.7 593.3 304.2 594.5 299.7C595.7 295.2 596.8 290.7 597.9 286.2C598.9 281.8 599.9 277.3 600.8 272.8C601.8 268.3 602.7 263.8 603.6 259.4C604.5 254.9 605.4 250.4 606.4 245.9C607.3 241.4 608.2 237 609.2 232.5C610.2 228 611.2 223.5 612.2 219C613.3 214.5 614.5 209.9 615.7 205.4C616.9 200.9 618.2 196.4 619.6 191.9C621 187.4 622.4 182.9 623.9 178.5C625.4 174 627 169.6 628.7 165.2C630.4 160.9 632.1 156.6 633.9 152.3C635.8 148.1 637.7 143.9 639.9 139.8C642 135.8 644.4 131.9 647.1 128.1C649.8 124.4 652.9 120.9 656.3 117.6C659.7 114.3 663.4 111.3 667.4 108.8C671.4 106.3 675.7 104.3 680 102.9C684.4 101.5 688.9 100.8 693.5 100.9C698 101 702.6 102 707 103.7C711.3 105.4 715.4 107.8 719 110.8C722.5 113.8 725.5 117.4 728.2 121.2C730.9 125.1 733.2 129.2 735.6 133.4C737.9 137.5 740.1 141.7 742.6 145.6C745 149.5 747.5 153.3 750.1 156.9C752.8 160.6 755.5 164.2 758.2 167.8C761 171.5 763.8 175.2 766.7 179.2C769.5 183.1 772.4 187.3 775.5 191C778.6 194.7 781.9 198 785.6 200.2C789.4 202.4 793.7 203.3 798.2 203.2C802.7 203.1 807.3 201.8 811.9 200.2C816.5 198.6 821 196.8 825.4 196.4C829.8 196 834.1 197.2 838.4 199.1C842.7 201.1 846.9 203.7 851.2 205.9C855.6 208.1 859.9 210.1 864.4 211.6C868.8 213.2 873.2 214.3 877.7 214.9C882.1 215.4 886.6 215.4 891.1 214.8C895.5 214.1 900 213 904.4 211.6C908.9 210.1 913.3 208.4 917.8 206.5C922.2 204.7 926.7 202.8 931.1 201.1C935.6 199.3 940 197.7 944.4 196.5C948.9 195.2 953.3 194.4 957.8 194.1C962.2 193.8 966.7 194.2 971.1 195C975.6 195.9 980 197.1 984.5 198.7C989 200.2 993.4 202 997.9 203.8C1002.3 205.6 1006.8 207.4 1011.2 209.1C1015.7 210.7 1020.1 212.2 1024.5 213.2C1029 214.3 1033.4 215 1037.8 215" stroke="#ff7f0e"/>
<path d="M226 347.1C230.7 346.9 235.4 347.2 240 347.9C244.6 348.5 249.1 349.5 253.6 350.6C258 351.8 262.4 353.1 266.8 354.5C271.3 355.9 275.7 357.3 280.1 358.7C284.5 360 288.9 361.3 293.4 362.3C298 363.4 302.5 364.2 307.2 364.7C311.8 365.2 316.5 365.5 321.2 365.9C325.8 366.2 330.5 366.6 335 367.4C339.5 368.1 343.9 369.1 348.2 370.7C352.4 372.3 356.5 374.4 360.4 376.8C364.3 379.3 368.2 382 372 384.8C375.8 387.6 379.5 390.5 383.3 393.2C387.1 396 390.9 398.6 394.7 401.1C398.6 403.6 402.5 406 406.5 408.3C410.5 410.5 414.5 412.7 418.7 414.7C422.8 416.8 427.1 418.7 431.4 420.5C435.8 422.2 440.2 423.8 444.7 425.2C449.1 426.5 453.7 427.6 458.2 428.3C462.7 429 467.3 429.4 471.9 429.3C476.4 429.3 480.9 428.8 485.5 428.2C490 427.5 494.6 426.6 499.3 425.8C503.9 425 508.7 424.4 513.5 423.7C518.2 423 522.8 422.2 527.1 420.8C531.3 419.4 535 417.2 538.2 414.2C541.4 411.3 544.2 407.7 546.8 403.7C549.4 399.8 551.7 395.6 554.1 391.4C556.5 387.2 559 383.2 561.5 379.2C564 375.2 566.5 371.4 568.9 367.4C571.3 363.5 573.6 359.5 575.7 355.5C577.9 351.4 580 347.3 582 343.2C584 339.1 585.9 334.9 587.7 330.7C589.5 326.5 591.3 322.2 593 318C594.6 313.7 596.2 309.4 597.8 305C599.3 300.7 600.8 296.3 602.2 291.9C603.6 287.5 605 283.1 606.3 278.6C607.6 274.2 608.9 269.7 610.2 265.3C611.4 260.8 612.6 256.3 613.8 251.8C615 247.3 616.2 242.8 617.3 238.2C618.5 233.7 619.6 229.2 620.8 224.7C621.9 220.1 623 215.6 624.2 211.1C625.3 206.6 626.5 202 627.7 197.5C628.9 193.1 630.2 188.6 631.5 184.2C632.9 179.8 634.3 175.4 635.9 171.1C637.5 166.7 639.1 162.5 641 158.3C642.9 154.1 644.9 150 647.1 146C649.3 142 651.7 138 654.3 134.2C656.9 130.4 659.8 126.7 662.9 123.1C666 119.5 669.4 116 673.1 113.1C676.8 110.2 680.8 107.9 685.1 106.6C689.4 105.4 693.9 105.2 698.1 106.4C702.2 107.6 706.2 109.9 710.1 112.7C713.9 115.4 717.7 118.4 721.5 121.2C725.3 124.1 729.1 126.8 732.8 129.6C736.5 132.4 740.2 135.2 743.8 138C747.4 140.9 750.9 143.8 754.4 146.8C757.9 149.8 761.3 153 764.6 156.2C767.9 159.4 771.2 162.6 774.4 166C777.6 169.3 780.7 172.8 783.8 176.2C786.9 179.7 789.9 183.2 792.9 186.7C795.9 190.3 798.9 193.9 801.8 197.5C804.7 201 807.6 204.7 810.5 208.3C813.3 211.9 816.2 215.6 819 219.3C821.8 222.9 824.6 226.6 827.3 230.3C830.1 234 832.9 237.7 835.6 241.4C838.4 245.1 841.1 248.8 843.9 252.6C846.6 256.3 849.4 260 852.1 263.7C854.9 267.5 857.6 271.2 860.4 274.9C863.2 278.7 866 282.4 868.9 286C871.7 289.7 874.6 293.4 877.5 297C880.5 300.5 883.5 304.1 886.6 307.5C889.7 311 892.8 314.3 896.1 317.6C899.4 320.9 902.7 324 906.2 327.1C909.7 330.1 913.3 333 917.1 335.7C920.8 338.5 924.7 341 928.7 343.2C932.7 345.5 936.9 347.4 941.2 348.9C945.5 350.4 950 351.5 954.6 352.1C959.3 352.7 964 352.9 968.8 352.8C973.5 352.7 978.2 352.5 982.8 352.1C987.4 351.7 992 351.2 996.6 350.7C1001.2 350.2 1005.7 349.6 1010.3 349.1C1014.8 348.6 1019.4 348.1 1024 347.7C1028.6 347.4 1033.3 347.1 1038 347" stroke="#ff7f0e"/>
<path d="M226 347.5C230.8 346.7 235.4 345.6 239.8 344.2C244.2 342.8 248.5 341.2 252.6 339.2C256.7 337.3 260.6 335.1 264.4 332.7C268.2 330.3 271.9 327.7 275.5 324.9C279.1 322.2 282.6 319.2 286 316.2C289.4 313.1 292.7 309.9 296 306.7C299.3 303.4 302.6 300.1 305.8 296.7C309 293.3 312.2 289.9 315.4 286.5C318.5 283 321.7 279.6 324.9 276.3C328.2 272.9 331.4 269.6 334.7 266.3C338 263.1 341.3 259.9 344.6 256.7C348 253.6 351.4 250.5 354.8 247.5C358.3 244.5 361.8 241.6 365.4 238.8C368.9 235.9 372.6 233.2 376.3 230.5C379.9 227.9 383.7 225.3 387.5 222.8C391.4 220.3 395.3 217.9 399.3 215.6C403.2 213.3 407.3 211.1 411.4 209C415.5 206.9 419.6 204.9 423.8 202.9C428 201 432.3 199.2 436.6 197.4C440.9 195.6 445.2 193.9 449.5 192.3C453.9 190.7 458.2 189.2 462.6 187.7C467 186.3 471.4 184.9 475.8 183.6C480.2 182.4 484.7 181.3 489.1 180.4C493.6 179.5 498.1 178.8 502.7 178.4C507.2 178 511.8 177.8 516.4 177.7C521.1 177.5 525.7 177.2 530.3 176.8C534.9 176.3 539.5 175.6 544 174.8C548.6 173.9 553.1 172.9 557.5 171.6C562 170.4 566.3 168.9 570.6 167.3C574.9 165.6 579.1 163.7 583.1 161.6C587.2 159.5 591.2 157.2 595 154.7C598.8 152.2 602.5 149.5 606.1 146.6C609.7 143.7 613.2 140.7 616.5 137.4C619.8 134.2 623 130.8 626 127.3C629 123.8 631.9 120.1 634.7 116.3C637.5 112.6 640.2 108.8 643.5 105.6C646.8 102.4 650.5 99.8 654.6 98.1C658.7 96.4 663.1 95.5 667.5 95C672 94.6 676.7 94.5 681.4 94.6C686 94.6 690.8 94.7 695.6 94.5C700.3 94.4 705.1 93.9 709.8 93.7C714.4 93.4 719 93.4 723.5 94C727.9 94.6 732.3 95.8 736.5 97.3C740.8 98.8 745 100.6 749.1 102.7C753.3 104.7 757.4 106.9 761.5 109C765.7 111.2 769.9 113.3 774.1 115.2C778.3 117.1 782.7 118.7 787 120.2C791.4 121.7 795.8 123 800.2 124.3C804.6 125.7 809 127 813.3 128.3C817.7 129.7 822 131.2 826.3 132.9C830.5 134.6 834.7 136.4 838.8 138.5C842.9 140.6 846.8 142.9 850.6 145.4C854.4 147.9 858 150.7 861.4 153.8C864.8 156.8 867.9 160.1 870.8 163.7C873.8 167.3 876.5 171.1 879.1 175C881.7 178.9 884.2 182.9 886.7 186.9C889.2 190.9 891.7 194.8 894.2 198.6C896.8 202.5 899.5 206.1 902.4 209.5C905.2 212.9 908.3 216.2 911.6 219.5C914.8 222.9 918.3 226.3 922 229.3C925.7 232.4 929.6 235.1 933.7 237.1C937.8 239.1 942.1 240.4 946.6 240.5C951 240.7 955.7 239.7 960.1 238C964.4 236.3 968.5 234 972.2 231.4C975.8 228.7 979.2 225.7 982.3 222.3C985.4 219 988.3 215.4 991.1 211.7C993.9 207.9 996.6 204 999.2 200.1C1001.9 196.3 1004.5 192.3 1007.2 188.6C1010 184.8 1012.8 181.1 1015.8 177.7C1018.9 174.2 1022.1 171 1025.7 168.3C1029.3 165.7 1033.3 163.5 1038 162.3" stroke="#ff7f0e"/>
<path d="M576 32C579 35.3 582.2 38.6 585.4 41.7C588.6 44.9 591.9 47.9 595.3 50.9C598.7 53.8 602.1 56.7 605.7 59.5C609.2 62.2 612.8 64.9 616.5 67.5C620.3 70 624.1 72.4 628.1 74.6C632 76.8 636.1 78.9 640.3 80.6C644.5 82.2 648.9 82.7 653.2 81.7C657.5 80.6 661.8 79 666 77.2C670.2 75.4 674.3 73.3 678.1 70.9C681.9 68.5 685.5 65.9 688.8 62.9C692.1 60 695.2 56.8 698.2 53.4C701.2 50 704.1 46.5 707 43C709.9 39.6 712.9 36.2 716 33" stroke="#ff7f0e"/>
<path d="M669.9 32.1C673.1 35.4 676.4 38.5 679.7 41.6C683 44.7 686.3 47.8 689.4 51.2C692.6 54.5 695.6 58.2 698.5 61.9C701.5 65.7 704.5 69.3 708 71.9C711.5 74.5 715.5 76.3 719.7 77.4C724 78.6 728.5 79.3 733.2 79.7C737.8 80.2 742.5 80.4 747.1 80.8C751.8 81.2 756.4 81.6 760.9 82.2C765.5 82.8 770 83.5 774.5 84.2C779 84.9 783.5 85.6 787.9 85.9C792.3 86.3 796.8 86.4 801.2 86.1C805.6 85.7 810.1 84.8 814.5 83.4C819 81.9 823.4 79.9 827.9 78C832.3 76.1 836.8 74.4 841.1 73.4C845.5 72.4 849.8 72.3 854.1 73.1C858.4 73.8 862.6 75.3 866.7 77.2C870.9 79.1 875 81.5 879.1 84C883.1 86.5 887.2 89.1 891.2 91.6C895.2 94.1 899.2 96.4 903.1 98.7C907.1 100.9 911 103.1 915 105.2C918.9 107.3 922.9 109.4 926.8 111.5C930.8 113.6 934.7 115.7 938.7 117.9C942.7 120.1 946.7 122.4 950.7 124.7C954.6 126.9 958.7 129.2 962.7 131.6C966.7 133.9 970.7 136.2 974.7 138.5C978.7 140.8 982.7 143.1 986.7 145.3C990.7 147.6 994.7 149.8 998.7 151.9C1002.7 154.1 1006.7 156 1010.9 157.7C1015 159.4 1019.3 160.7 1023.8 161.6C1028.3 162.4 1033 162.8 1038 162.4" stroke="#ff7f0e"/>
<path d="M880.1 32.1C883.7 34.3 887.2 37 890.7 39.8C894.2 42.6 897.7 45.7 901.3 48.7C904.9 51.7 908.5 54.8 912.2 57.6C915.9 60.4 919.7 63 923.6 65.2C927.6 67.4 931.7 69.2 936 70.4C940.4 71.6 944.8 72.3 949.3 72.3C953.7 72.3 958.2 71.7 962.4 70.5C966.7 69.2 970.8 67.2 974.8 64.8C978.7 62.3 982.5 59.5 986.3 57C990.1 54.4 994 52 998 50.4C1002.1 48.8 1006.3 48 1010.8 48.4C1015.3 48.7 1020 49.9 1024.7 51.2C1029.3 52.5 1033.8 53.8 1038.1 54.3" stroke="#ff7f0e"/>
<path d="M226.2 747.9C230.5 745.6 234.4 742.9 237.9 739.9C241.3 736.9 244.3 733.5 247 729.9C249.7 726.3 252.1 722.4 254.2 718.4C256.4 714.3 258.3 710.1 260 705.8C261.7 701.4 263.3 697 264.9 692.5C266.4 688.1 267.9 683.6 269.3 679.1C270.8 674.6 272.3 670.2 273.8 665.8C275.3 661.3 276.8 656.9 278.2 652.5C279.7 648.1 281.2 643.7 282.8 639.4C284.3 635 285.8 630.6 287.4 626.3C288.9 621.9 290.5 617.6 292.2 613.3C293.8 609 295.4 604.7 297.1 600.4C298.8 596.2 300.5 591.9 302.3 587.7C304.1 583.4 305.9 579.2 307.8 575C309.7 570.8 311.7 566.6 313.8 562.4C315.9 558.2 318.1 554.1 320.4 549.9C322.8 545.8 325.2 541.7 327.9 537.7C330.6 533.8 333.6 530.1 336.9 527C340.3 523.9 344.1 521.4 348.4 519.7C352.6 518 357.3 517.1 361.9 517C366.5 516.8 371.2 517.4 375.5 518.7C379.9 520.1 383.9 522.1 387.8 524.6C391.8 527.1 395.5 530 399.1 533.1C402.7 536.2 406.3 539.5 409.8 542.6C413.4 545.8 416.9 548.8 420.4 551.8C424 554.8 427.5 557.7 431.1 560.6C434.7 563.5 438.3 566.3 442 569C445.6 571.8 449.4 574.5 453.2 577.2C457 579.8 460.8 582.4 464.7 584.9C468.7 587.4 472.6 589.8 476.7 592.1C480.7 594.4 484.8 596.6 489 598.7C493.2 600.7 497.5 602.6 502.2 604.4C506.8 606.1 511.7 607.6 516.3 607.9C520.9 608.3 525.2 607.4 528.9 605.2C532.6 602.9 535.9 599.5 538.8 596C541.7 592.4 544.3 588.6 546.6 584.6C548.9 580.5 551 576.4 552.9 572.1C554.8 567.8 556.5 563.4 558.2 559C559.9 554.7 561.5 550.3 563.2 545.9C564.8 541.4 566.4 537 568 532.6C569.6 528.3 571.1 523.9 572.7 519.5C574.3 515.1 575.9 510.8 577.6 506.4C579.2 502.1 580.9 497.8 582.6 493.5C584.3 489.3 586.1 485 588 480.8C589.8 476.7 591.7 472.5 593.8 468.4C595.8 464.4 598 460.4 600.5 456.5C602.9 452.6 605.5 448.8 608.4 445.1C611.4 441.5 614.6 438 618.2 434.7C621.7 431.4 625.5 428.3 629.5 425.6C633.5 422.9 637.7 420.5 642 418.7C646.3 416.8 650.7 415.4 655.1 414.6C659.5 413.7 664 413.5 668.5 413.7C672.9 413.9 677.4 414.5 681.9 415.5C686.4 416.4 690.9 417.7 695.3 419.3C699.7 420.8 704.2 422.6 708.5 424.5C712.9 426.3 717.2 428.3 721.5 430.3C725.8 432.3 730.1 434.3 734.3 436.2C738.6 438 742.9 439.8 747.2 441.2C751.5 442.7 755.8 443.9 760.2 444.9C764.6 445.8 769.1 446.5 773.5 447.1C778 447.6 782.6 447.9 787.1 448.1C791.7 448.3 796.3 448.4 801 448.5C805.7 448.5 810.4 448.5 815.2 448.5C819.9 448.5 824.8 448.4 829.6 448.5C834.4 448.6 839.3 448.8 844.1 449.1C848.9 449.4 853.6 449.9 858.2 450.7C862.9 451.5 867.4 452.5 871.7 453.9C876 455.2 880.2 457 884.2 459.1C888.1 461.2 891.9 463.7 895.4 466.5C899 469.3 902.4 472.4 905.6 475.7C908.9 479 911.9 482.5 914.9 486.2C917.8 489.9 920.6 493.7 923.2 497.6C925.9 501.5 928.4 505.5 930.8 509.5C933.2 513.5 935.5 517.6 937.7 521.6C939.9 525.7 942 529.8 944 534C946 538.2 947.9 542.3 949.8 546.6C951.6 550.8 953.4 555 955.1 559.3C956.8 563.6 958.4 567.9 960 572.3C961.6 576.6 963.1 581 964.6 585.3C966.1 589.7 967.6 594.1 969 598.6C970.4 603 971.8 607.4 973.1 611.9C974.5 616.4 975.8 620.8 977.2 625.3C978.5 629.8 979.9 634.3 981.2 638.8C982.6 643.3 984 647.8 985.4 652.2C986.8 656.7 988.3 661.1 989.8 665.5C991.3 669.9 992.9 674.3 994.5 678.6C996.2 683 997.9 687.3 999.8 691.5C1001.6 695.7 1003.6 699.9 1005.6 704C1007.7 708.1 1009.9 712.1 1012.2 716.1C1014.5 720 1017 723.9 1019.6 727.7C1022.2 731.5 1025 735.2 1028 738.7C1030.9 742.3 1034.1 745.8 1037.4 749.1" stroke="#ff7f0e"/>
<path d="M226.1 813.4C231.3 812.4 235.1 809.9 238.2 806.7C241.4 803.6 243.9 799.6 246.2 795.6C248.6 791.7 250.8 787.5 252.8 783.4C254.9 779.2 256.8 774.9 258.7 770.6C260.5 766.2 262.3 761.9 264 757.5C265.7 753.1 267.3 748.8 269 744.4C270.6 740 272.2 735.6 273.8 731.3C275.3 726.9 276.9 722.6 278.4 718.2C280 713.8 281.5 709.5 283 705.1C284.5 700.8 286.1 696.4 287.6 692C289.1 687.7 290.6 683.3 292.1 678.9C293.7 674.5 295.2 670.2 296.8 665.8C298.3 661.4 299.9 657 301.5 652.5C303.1 648.1 304.7 643.7 306.4 639.3C308.2 634.9 310.1 630.6 312.2 626.5C314.4 622.3 316.9 618.3 319.7 614.6C322.6 610.9 326 607.3 329.7 604.4C333.4 601.5 337.4 599.4 341.6 598.5C345.7 597.6 349.9 598.3 354 600C358.1 601.8 362.2 604.6 366.1 607.7C370 610.9 373.8 614.4 377.3 617.7C380.8 621.1 384.1 624.3 387.3 627.5C390.5 630.8 393.6 634 396.7 637.4C399.8 640.7 402.8 644.1 405.9 647.6C409 651.1 412.1 654.6 415.3 658C418.5 661.4 421.7 664.8 425.1 668.1C428.5 671.3 432 674.4 435.6 677.2C439.2 680.1 443 682.7 446.9 685.2C450.7 687.7 454.6 690.2 458.5 692.6C462.4 695.1 466.2 697.6 470.1 700.1C474 702.7 477.9 705.1 482 707.5C486.1 709.9 490.3 712.2 494.8 714.2C499.3 716.3 504.1 718.1 508.8 719.3C513.5 720.6 518.1 721.3 522.5 721C526.8 720.8 530.9 719.6 534.3 717.2C537.8 714.8 540.7 711.1 543.3 707.1C545.9 703 548.3 698.7 550.5 694.5C552.8 690.2 554.9 686 557 681.8C559 677.6 561 673.4 562.9 669.1C564.8 664.9 566.6 660.6 568.4 656.4C570.2 652.1 571.9 647.8 573.6 643.5C575.4 639.2 577 634.8 578.7 630.5C580.3 626.2 581.9 621.8 583.5 617.5C585.1 613.1 586.7 608.7 588.3 604.4C589.9 600 591.4 595.6 593 591.2C594.5 586.8 596.1 582.5 597.7 578.1C599.2 573.7 600.8 569.3 602.4 564.9C604 560.5 605.6 556.2 607.2 551.8C608.8 547.4 610.5 543.1 612.2 538.7C613.9 534.4 615.6 530 617.4 525.7C619.1 521.4 620.9 517.1 622.8 512.9C624.7 508.6 626.6 504.4 628.5 500.2C630.5 496 632.5 491.8 634.6 487.7C636.7 483.5 638.9 479.4 641.1 475.4C643.4 471.4 645.8 467.4 648.3 463.5C650.8 459.6 653.4 455.7 656.2 452C659 448.2 661.9 444.6 665.1 441C668.2 437.5 671.6 434 675.1 430.9C678.7 427.8 682.5 425.1 686.5 422.8C690.5 420.5 694.8 418.7 699.3 417.6C703.8 416.5 708.4 416 713 416.2C717.6 416.4 722.1 417.4 726.4 418.9C730.7 420.5 734.8 422.7 738.9 425.1C742.9 427.5 746.9 430.1 750.9 432.6C754.9 435.1 759 437.5 763.1 439.7C767.2 442 771.4 444.1 775.5 446.2C779.7 448.3 783.9 450.3 788.1 452.2C792.3 454.1 796.5 456 800.8 457.9C805 459.8 809.2 461.6 813.5 463.4C817.7 465.3 822 467.2 826.2 469.1C830.4 470.9 834.6 472.9 838.8 474.9C843 476.9 847.2 478.9 851.3 481.1C855.5 483.2 859.6 485.5 863.7 487.8C867.7 490.2 871.7 492.7 875.6 495.3C879.4 497.9 883.2 500.7 886.7 503.7C890.3 506.6 893.7 509.7 896.8 513.1C900 516.4 902.9 519.9 905.6 523.6C908.4 527.3 910.9 531.1 913.3 535.1C915.7 539 918 543.1 920.1 547.3C922.2 551.4 924.2 555.7 926.2 560C928.1 564.3 930 568.6 931.8 573C933.7 577.3 935.5 581.6 937.3 586C939.1 590.3 940.9 594.6 942.6 599C944.4 603.3 946.1 607.6 947.9 611.9C949.6 616.2 951.3 620.5 953 624.8C954.7 629.1 956.4 633.4 958 637.8C959.6 642.1 961.3 646.4 962.8 650.7C964.4 655.1 966 659.4 967.5 663.8C969.1 668.2 970.6 672.6 972 677C973.5 681.4 975 685.8 976.4 690.2C977.9 694.6 979.4 699 980.8 703.5C982.3 707.9 983.7 712.3 985.2 716.7C986.7 721.2 988.3 725.6 989.8 730C991.4 734.4 992.9 738.8 994.6 743.1C996.2 747.5 997.9 751.8 999.7 756.2C1001.4 760.5 1003.3 764.8 1005.2 769.1C1007.1 773.3 1009 777.6 1011.1 781.8C1013.2 785.9 1015.4 790.1 1017.9 793.9C1020.4 797.8 1023.2 801.4 1026.5 804.6C1029.7 807.8 1033.5 810.5 1038 812.7" stroke="#ff7f0e"/>
<path d="M226.2 1176.6C230.6 1178.1 234.5 1180.2 238 1182.7C241.4 1185.1 244.5 1188.1 247.3 1191.3C250.1 1194.5 252.7 1198 255 1201.6C257.3 1205.3 259.5 1209.1 261.5 1213C263.5 1216.9 265.4 1221 267.3 1225C269.1 1229.1 270.9 1233.2 272.6 1237.4C274.4 1241.5 276.2 1245.6 278 1249.7C279.8 1253.7 281.6 1257.8 283.5 1261.8C285.3 1265.8 287.2 1269.7 289.1 1273.7C291 1277.6 292.9 1281.5 294.8 1285.4C296.8 1289.4 298.7 1293.3 300.6 1297.2C302.5 1301.1 304.4 1305 306.2 1309C308.1 1312.9 309.9 1316.9 311.7 1320.9C313.5 1324.9 315.3 1328.9 317 1333" stroke="#ff7f0e"/>
<path d="M226 1176.5C230.8 1177.4 235.4 1178.4 239.9 1179.7C244.3 1181 248.7 1182.6 253 1184.3C257.2 1186 261.4 1187.9 265.5 1190C269.5 1192.1 273.5 1194.4 277.4 1196.8C281.2 1199.2 285 1201.8 288.8 1204.5C292.5 1207.2 296.1 1210 299.7 1212.9C303.3 1215.8 306.8 1218.8 310.3 1221.9C313.8 1225 317.2 1228.2 320.6 1231.4C324 1234.7 327.3 1237.9 330.6 1241.2C333.9 1244.5 337.2 1247.9 340.5 1251.2C343.8 1254.6 347 1257.9 350.3 1261.3C353.5 1264.6 356.7 1268 359.9 1271.4C363.1 1274.8 366.3 1278.2 369.5 1281.6C372.7 1285 375.8 1288.3 379 1291.7C382.2 1295.1 385.3 1298.5 388.5 1301.9C391.7 1305.2 394.9 1308.6 398 1311.9C401.2 1315.2 404.4 1318.6 407.6 1321.9C410.8 1325.2 413.9 1328.4 417.2 1331.7" stroke="#ff7f0e"/>
<path d="M870.9 1334.6C873.8 1331.2 876.6 1327.6 879.3 1324C882.1 1320.4 884.8 1316.7 887.5 1312.9C890.2 1309.2 892.8 1305.3 895.5 1301.5C898.2 1297.7 900.8 1293.8 903.4 1289.9C906.1 1286 908.7 1282.1 911.4 1278.2C914 1274.3 916.7 1270.4 919.4 1266.6C922.2 1262.7 924.9 1258.9 927.7 1255C930.5 1251.2 933.3 1247.5 936.2 1243.8C939.1 1240.1 942.1 1236.4 945.1 1232.9C948.1 1229.3 951.2 1225.8 954.4 1222.5C957.6 1219.1 960.9 1215.8 964.3 1212.6C967.7 1209.5 971.2 1206.5 974.8 1203.6C978.3 1200.7 982.1 1198 985.9 1195.5C989.7 1193 993.7 1190.7 997.7 1188.5C1001.8 1186.4 1006 1184.5 1010.4 1182.9C1014.7 1181.3 1019.2 1179.9 1023.8 1178.8C1028.5 1177.7 1033.3 1176.8 1038.2 1176.3" stroke="#ff7f0e"/>
<path d="M943.8 1332.7C945.7 1328.9 947.5 1324.9 949.3 1321C951 1317 952.7 1312.9 954.4 1308.8C956.1 1304.8 957.8 1300.7 959.5 1296.5C961.1 1292.4 962.8 1288.2 964.4 1284.1C966.1 1279.9 967.8 1275.7 969.5 1271.6C971.2 1267.4 972.9 1263.3 974.7 1259.2C976.5 1255 978.3 1250.9 980.2 1246.9C982.1 1242.8 984.1 1238.8 986.1 1234.9C988.2 1230.9 990.3 1227 992.5 1223.2C994.8 1219.4 997.1 1215.6 999.6 1212C1002 1208.3 1004.6 1204.7 1007.3 1201.3C1010.1 1197.8 1013 1194.5 1016.1 1191.4C1019.2 1188.4 1022.5 1185.5 1026.1 1183C1029.7 1180.4 1033.5 1178.2 1037.7 1176.4" stroke="#ff7f0e"/>
</g>
<g class="vl" clip-path="url(#ax)">
<line x1="225.0" y1="41.0" x2="225.0" y2="1316.0"/>
<line x1="1039.0" y1="41.0" x2="1039.0" y2="1316.0"/>
<line x1="523" y1="41.0" x2="523" y2="1316.0"/>
<line x1="695" y1="41.0" x2="695" y2="1316.0"/>
</g>
<g class="tk">
<line x1="208" y1="41" x2="225" y2="41"/>
<line class="mn" x1="215.2" y1="83.5" x2="225" y2="83.5"/>
<line class="mn" x1="215.2" y1="126" x2="225" y2="126"/>
<line class="mn" x1="215.2" y1="168.5" x2="225" y2="168.5"/>
<line class="mn" x1="215.2" y1="211" x2="225" y2="211"/>
<line x1="208" y1="253" x2="225" y2="253"/>
<line class="mn" x1="215.2" y1="296" x2="225" y2="296"/>
<line class="mn" x1="215.2" y1="338.5" x2="225" y2="338.5"/>
<line class="mn" x1="215.2" y1="381" x2="225" y2="381"/>
<line class="mn" x1="215.2" y1="423.5" x2="225" y2="423.5"/>
<line x1="208" y1="466" x2="225" y2="466"/>
<line class="mn" x1="215.2" y1="508.5" x2="225" y2="508.5"/>
<line class="mn" x1="215.2" y1="551" x2="225" y2="551"/>
<line class="mn" x1="215.2" y1="593.5" x2="225" y2="593.5"/>
<line class="mn" x1="215.2" y1="636" x2="225" y2="636"/>
<line x1="208" y1="678" x2="225" y2="678"/>
<line class="mn" x1="215.2" y1="721" x2="225" y2="721"/>
<line class="mn" x1="215.2" y1="763.5" x2="225" y2="763.5"/>
<line class="mn" x1="215.2" y1="806" x2="225" y2="806"/>
<line class="mn" x1="215.2" y1="848.5" x2="225" y2="848.5"/>
<line x1="208" y1="891" x2="225" y2="891"/>
<line class="mn" x1="215.2" y1="933.5" x2="225" y2="933.5"/>
<line class="mn" x1="215.2" y1="976" x2="225" y2="976"/>
<line class="mn" x1="215.2" y1="1018.5" x2="225" y2="1018.5"/>
<line class="mn" x1="215.2" y1="1061" x2="225" y2="1061"/>
<line x1="208" y1="1103" x2="225" y2="1103"/>
<line class="mn" x1="215.2" y1="1146" x2="225" y2="1146"/>
<line class="mn" x1="215.2" y1="1188.5" x2="225" y2="1188.5"/>
<line class="mn" x1="215.2" y1="1231" x2="225" y2="1231"/>
<line class="mn" x1="215.2" y1="1273.5" x2="225" y2="1273.5"/>
<line x1="208" y1="1316" x2="225" y2="1316"/>
<line x1="225" y1="1316" x2="225" y2="1333.6"/>
<line x1="523" y1="1316" x2="523" y2="1333.6"/>
<line x1="695" y1="1316" x2="695" y2="1333.6"/>
<line x1="1039" y1="1316" x2="1039" y2="1333.6"/>
</g>
<g class="sp">
<line x1="225.0" y1="41.0" x2="225.0" y2="1316.0"/>
<line x1="1039.0" y1="41.0" x2="1039.0" y2="1316.0"/>
<line x1="225.0" y1="41.0" x2="1039.0" y2="41.0"/>
<line x1="225.0" y1="1316.0" x2="1039.0" y2="1316.0"/>
</g>
<g class="yl">
<text x="189" y="69.5" text-anchor="end">3</text>
<text x="189" y="282" text-anchor="end">2</text>
<text x="189" y="494.5" text-anchor="end">1</text>
<text x="189" y="707" text-anchor="end">0</text>
<text x="188" y="919.5" text-anchor="end">-1</text>
<text x="188" y="1132" text-anchor="end">-2</text>
<text x="188" y="1344.5" text-anchor="end">-3</text>
</g>
<g class="xl">
<text transform="translate(228,1410.5) scale(1.065,1)" text-anchor="middle">Γ</text>
<text transform="translate(523.4,1410.5) scale(1.01,1)" text-anchor="middle">M</text>
<text transform="translate(696.7,1410.5) scale(1.035,1)" text-anchor="middle">K</text>
<text transform="translate(1042,1410.5) scale(1.085,1)" text-anchor="middle">Γ</text>
</g>
<text transform="translate(69.8,681.2) rotate(-90)" text-anchor="middle" style="font-size:89.6px">Energy <tspan dy="3">[</tspan><tspan dy="-3">eV</tspan><tspan dy="3">]</tspan></text>
</svg>
</body>
</html>
